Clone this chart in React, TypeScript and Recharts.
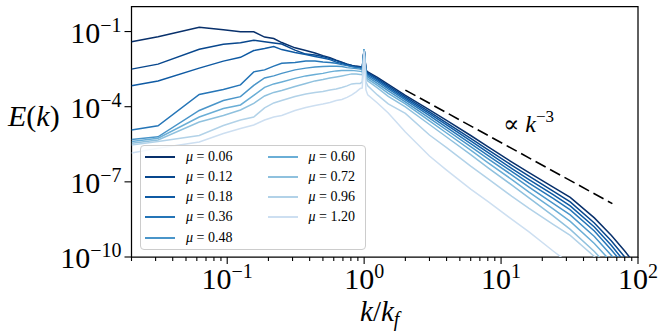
import React from 'react';
import { LineChart, Line, XAxis, YAxis, ReferenceArea } from 'recharts';

// wavenumber k / k_f
const kOverKf = [
  0.02, 0.03125, 0.0625, 0.09375, 0.125, 0.15625, 0.1875, 0.21875, 0.25, 0.3125,
  0.375, 0.4375, 0.5, 0.5625, 0.625, 0.6875, 0.75, 0.8125, 0.875, 0.9375,
  0.96875, 1.0, 1.03125, 1.0625, 1.25, 1.5, 2, 3, 4, 6,
  8, 12, 16, 24, 32, 48, 64, 80, 100,
];

// log10 E(k) for each mu
const log10E_mu006 = [-1.41, -1.21, -0.83, -0.93, -1.01, -1.01, -1.22, -1.28, -1.44, -1.65, -1.76, -1.86, -1.96, -2.04, -2.14, -2.22, -2.30, -2.35, -2.38, -2.40, -2.44, -1.70, -2.53, -2.61, -2.83, -3.11, -3.55, -4.13, -4.55, -5.15, -5.59, -6.21, -6.63, -7.21, -7.62, -8.44, -9.14, -9.76, -10.44];
const log10E_mu012 = [-2.50, -2.30, -1.71, -1.51, -1.45, -1.35, -1.41, -1.46, -1.50, -1.74, -1.90, -1.94, -2.00, -2.08, -2.16, -2.24, -2.30, -2.35, -2.40, -2.42, -2.46, -1.70, -2.57, -2.65, -2.88, -3.17, -3.61, -4.21, -4.65, -5.26, -5.71, -6.34, -6.77, -7.37, -7.80, -8.64, -9.36, -10.00, -10.72];
const log10E_mu018 = [-3.16, -2.97, -2.46, -2.18, -2.03, -1.76, -1.68, -1.60, -1.72, -1.84, -1.92, -2.00, -2.06, -2.12, -2.22, -2.28, -2.34, -2.39, -2.42, -2.44, -2.48, -1.70, -2.61, -2.69, -2.93, -3.23, -3.67, -4.28, -4.73, -5.36, -5.82, -6.47, -6.91, -7.51, -7.96, -8.80, -9.54, -10.20, -10.92];
const log10E_mu036 = [-4.93, -4.76, -3.51, -3.31, -3.13, -2.61, -2.53, -2.38, -2.27, -2.24, -2.18, -2.18, -2.22, -2.24, -2.27, -2.32, -2.36, -2.40, -2.44, -2.46, -2.50, -1.70, -2.65, -2.75, -2.99, -3.29, -3.73, -4.36, -4.83, -5.47, -5.94, -6.59, -7.05, -7.66, -8.12, -8.96, -9.72, -10.36, -11.08];
const log10E_mu048 = [-5.31, -5.20, -4.15, -3.75, -3.60, -3.15, -2.85, -2.77, -2.67, -2.53, -2.46, -2.42, -2.40, -2.39, -2.39, -2.40, -2.44, -2.46, -2.48, -2.50, -2.53, -1.70, -2.69, -2.81, -3.07, -3.37, -3.81, -4.46, -4.93, -5.59, -6.07, -6.73, -7.21, -7.86, -8.32, -9.18, -9.94, -10.60, -11.32];
const log10E_mu060 = [-5.39, -5.26, -4.41, -4.07, -3.93, -3.55, -3.23, -3.09, -3.01, -2.87, -2.77, -2.71, -2.67, -2.61, -2.57, -2.55, -2.55, -2.55, -2.57, -2.59, -2.61, -1.70, -2.77, -2.89, -3.15, -3.47, -3.89, -4.57, -5.05, -5.73, -6.23, -6.91, -7.41, -8.08, -8.58, -9.46, -10.20, -10.84, -11.56];
const log10E_mu072 = [-5.46, -5.33, -4.61, -4.35, -4.13, -3.87, -3.57, -3.43, -3.35, -3.19, -3.07, -2.97, -2.91, -2.85, -2.81, -2.77, -2.73, -2.69, -2.69, -2.71, -2.73, -1.74, -2.85, -2.97, -3.25, -3.59, -4.01, -4.71, -5.21, -5.91, -6.43, -7.13, -7.64, -8.36, -8.90, -9.78, -10.52, -11.16, -11.88];
const log10E_mu096 = [-5.53, -5.39, -5.15, -4.75, -4.53, -4.41, -4.05, -3.85, -3.75, -3.59, -3.49, -3.43, -3.39, -3.33, -3.29, -3.23, -3.17, -3.09, -3.07, -3.07, -3.01, -1.78, -3.01, -3.17, -3.53, -3.89, -4.27, -5.13, -5.63, -6.37, -6.87, -7.58, -8.06, -8.70, -9.14, -9.98, -10.72, -11.36, -12.08];
const log10E_mu120 = [-5.85, -5.66, -5.41, -5.07, -4.87, -4.73, -4.53, -4.41, -4.35, -4.15, -4.03, -3.95, -3.89, -3.83, -3.75, -3.71, -3.63, -3.53, -3.41, -3.27, -3.25, -1.82, -3.33, -3.53, -3.85, -4.25, -5.01, -5.97, -6.53, -7.29, -7.78, -8.50, -9.00, -9.76, -10.28, -11.04, -11.60, -12.08, -12.56];

const muLabels = ['0.06', '0.12', '0.18', '0.36', '0.48', '0.60', '0.72', '0.96', '1.20'];
const seriesLogs = [log10E_mu006, log10E_mu012, log10E_mu018, log10E_mu036, log10E_mu048, log10E_mu060, log10E_mu072, log10E_mu096, log10E_mu120];
const colors = ['#08306b', '#08478d', '#0f5aa3', '#2575b7', '#4a95c9', '#6aaed6', '#8fc1de', '#b2d2e8', '#cddff1'];

// k^-3 reference line endpoints
const refX = [2, 65];
const refY = [4.6e-4, 1.35e-8];

// axis ticks
const xDomain = [0.02, 100];
const yDomain = [1e-10, 1];
const xTicks = [
  0.02, 0.03, 0.04, 0.05, 0.06, 0.07, 0.08, 0.09, 0.1,
  0.2, 0.3, 0.4, 0.5, 0.6, 0.7, 0.8, 0.9, 1,
  2, 3, 4, 5, 6, 7, 8, 9, 10,
  20, 30, 40, 50, 60, 70, 80, 90, 100,
];
const yTicks = [1e-10, 1e-7, 1e-4, 1e-1];

const FONT = "'Liberation Serif', 'DejaVu Serif', serif";

const seriesData = seriesLogs.map((arr) => kOverKf.map((x, i) => ({ x, y: Math.pow(10, arr[i]) })));
const refData = refX.map((x, i) => ({ x, y: refY[i] }));

const expText = (e: number) => (e < 0 ? '\u2212' + Math.abs(e) : String(e));

const XTick = (props: any) => {
  const { x, y, payload } = props;
  const lv = Math.log10(payload.value);
  const e = Math.round(lv);
  const major = Math.abs(lv - e) < 1e-6;
  return (
    <g>
      <line x1={x} y1={y} x2={x} y2={y + (major ? 7 : 4)} stroke="#000" strokeWidth={1.1} />
      {major && (
        <text x={x} y={y + 32} textAnchor="middle" fontFamily={FONT} fontSize={30} fill="#000">
          10
          <tspan dy={-11} fontSize={20}>{expText(e)}</tspan>
        </text>
      )}
    </g>
  );
};

const YTick = (props: any) => {
  const { x, y, payload } = props;
  const e = Math.round(Math.log10(payload.value));
  return (
    <g>
      <line x1={x - 7} y1={y} x2={x} y2={y} stroke="#000" strokeWidth={1.1} />
      <text x={x - 10} y={y + 11} textAnchor="end" fontFamily={FONT} fontSize={30} fill="#000">
        10
        <tspan dy={-11} fontSize={20}>{expText(e)}</tspan>
      </text>
    </g>
  );
};

const LegendBox = () => {
  const rows = 5;
  return (
    <div
      style={{
        position: 'absolute',
        left: 140,
        top: 145,
        width: 226,
        height: 105,
        boxSizing: 'border-box',
        background: 'rgba(255,255,255,0.8)',
        border: '1px solid #cccccc',
        borderRadius: 4,
        fontFamily: FONT,
        fontSize: 14,
      }}
    >
      {muLabels.map((m, i) => {
        const col = Math.floor(i / rows);
        const row = i % rows;
        const lx = col === 0 ? 4 : 126.5;
        const cy = 10.5 + row * 20.3;
        return (
          <div key={m}>
            <div
              style={{
                position: 'absolute',
                left: lx,
                top: cy - 1,
                width: 30,
                height: 2,
                background: colors[i],
              }}
            />
            <div
              style={{
                position: 'absolute',
                left: lx + 41,
                top: cy - 9,
                lineHeight: '18px',
                whiteSpace: 'nowrap',
                color: '#000',
              }}
            >
              <span style={{ fontStyle: 'italic' }}>μ</span> = {m}
            </div>
          </div>
        );
      })}
    </div>
  );
};

export default function App() {
  return (
    <div style={{ position: 'absolute', left: 0, top: 0, width: 664, height: 334, background: '#fff' }}>
      <LineChart width={664} height={334} margin={{ top: 6.5, right: 26, bottom: 47, left: 71.5 }}>
        <XAxis
          dataKey="x"
          type="number"
          scale="log"
          domain={xDomain}
          allowDataOverflow
          ticks={xTicks}
          interval={0}
          tickLine={false}
          axisLine={false}
          tickSize={0}
          tickMargin={0}
          tick={<XTick />}
          height={30}
        />
        <YAxis
          dataKey="y"
          type="number"
          scale="log"
          domain={yDomain}
          allowDataOverflow
          ticks={yTicks}
          interval={0}
          tickLine={false}
          axisLine={false}
          tickSize={0}
          tickMargin={0}
          tick={<YTick />}
          width={60}
        />
        {seriesData.map((d, i) => (
          <Line
            key={muLabels[i]}
            data={d}
            dataKey="y"
            stroke={colors[i]}
            strokeWidth={1.5}
            dot={false}
            activeDot={false}
            isAnimationActive={false}
            type="linear"
          />
        ))}
        <Line
          data={refData}
          dataKey="y"
          stroke="#000"
          strokeWidth={1.6}
          strokeDasharray="11.5 5"
          dot={false}
          activeDot={false}
          isAnimationActive={false}
          type="linear"
        />
        <ReferenceArea
          x1={xDomain[0]}
          x2={xDomain[1]}
          y1={yDomain[0]}
          y2={yDomain[1]}
          fill="none"
          fillOpacity={0}
          stroke="#000"
          strokeWidth={1.25}
          ifOverflow="visible"
        />
      </LineChart>
      <LegendBox />
      <svg width={664} height={334} style={{ position: 'absolute', left: 0, top: 0, pointerEvents: 'none' }}>
        <text x={8} y={126} fontFamily={FONT} fontSize={30} fill="#000">
          <tspan fontStyle="italic">E</tspan>(<tspan fontStyle="italic">k</tspan>)
        </text>
        <text x={360} y={321} fontFamily={FONT} fontSize={29} fill="#000">
          <tspan fontStyle="italic">k</tspan>/<tspan fontStyle="italic">k</tspan>
          <tspan fontStyle="italic" fontSize={20} dy={5}>f</tspan>
        </text>
        <text x={503} y={132} fontFamily={FONT} fontSize={24} fill="#000">
          ∝ <tspan fontStyle="italic">k</tspan>
          <tspan fontSize={17} dy={-10}>{'\u22123'}</tspan>
        </text>
      </svg>
    </div>
  );
}
